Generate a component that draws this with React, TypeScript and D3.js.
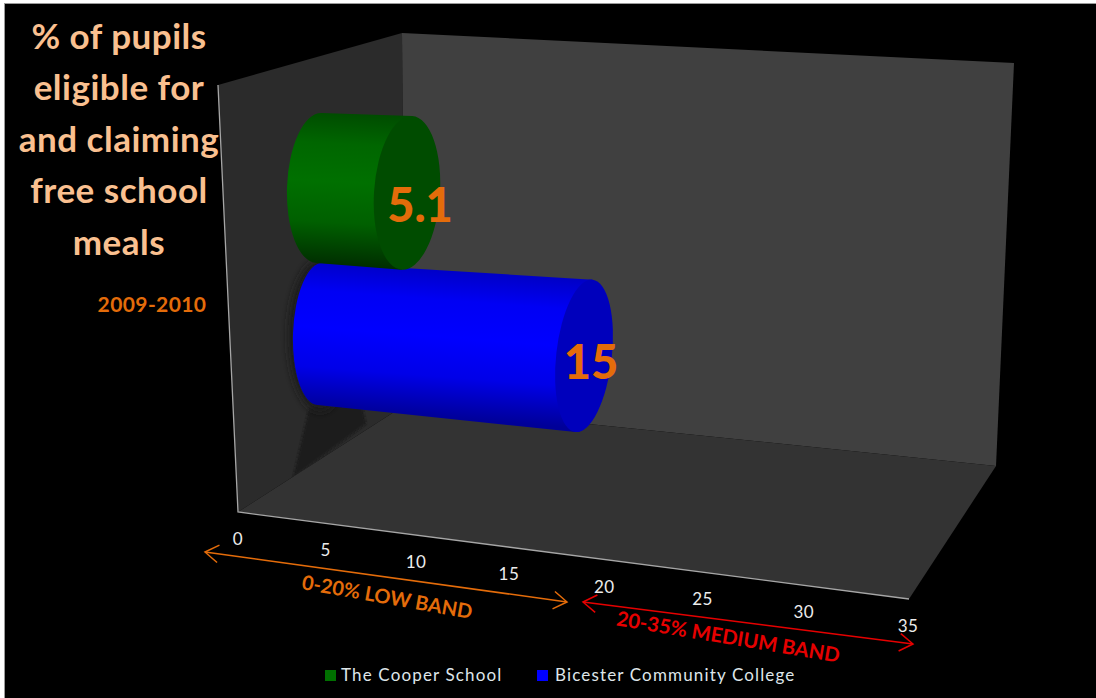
import React from "react";
import * as d3 from "d3";

// Chart values
const schools = ["The Cooper School", "Bicester Community College"];
const meals = [5.1, 15];
const tickValues = [0, 5, 10, 15, 20, 25, 30, 35];
const titleLines = ["% of pupils", "eligible for", "and claiming", "free school", "meals"];
const yearLabel = "2009-2010";
const bands = [
  { label: "0-20% LOW BAND", from: 0, to: 20 },
  { label: "20-35% MEDIUM BAND", from: 20, to: 35 },
];

type Pt = [number, number];

// Perspective along the value axis: equal value steps widen towards the viewer.
const DEPTH_K = 1.105;
const axisMax = d3.max(tickValues) as number;
const unit = d3.scaleLinear().domain([0, axisMax]).range([0, 1]);
const foreshorten = (v: number) => {
  const u = unit(v);
  return u / (u + DEPTH_K * (1 - u));
};
const along = (a: Pt, b: Pt, v: number): Pt => {
  const t = foreshorten(v);
  return [d3.interpolateNumber(a[0], b[0])(t), d3.interpolateNumber(a[1], b[1])(t)];
};

// Box corners of the 3D plot
const wallTopLeft: Pt = [218, 85];
const backTopLeft: Pt = [402, 33];
const backTopRight: Pt = [1014, 63];
const backBottomRight: Pt = [996, 466];
const backBottomLeft: Pt = [405, 405];
const floorFrontLeft: Pt = [238, 512];
const floorFrontRight: Pt = [909, 599];

const poly = (pts: Pt[]) => d3.line()(pts) + "Z";

// Each bar runs along its own ray; radius and tilt change along it.
const rows = [
  {
    start: [319, 188] as Pt, end: [977, 225] as Pt,
    r0: [32, 75], r1: [39, 90], tilt0: 2, tilt1: 16,
    side: ["#004c00", "#006600", "#007000", "#006000", "#002e00"],
    cap: "#004c00",
    labelDx: 13, labelDy: 29,
  },
  {
    start: [320, 334] as Pt, end: [973, 388] as Pt,
    r0: [27, 71], r1: [29, 85], tilt0: 2, tilt1: 13,
    side: ["#0000c8", "#0000f4", "#0000ff", "#0000e8", "#000098"],
    cap: "#0000bc",
    labelDx: 7, labelDy: 23,
  },
];
const sideStops = [0, 0.2, 0.45, 0.72, 1];

function bar(i: number) {
  const row = rows[i];
  const v = meals[i];
  const t = foreshorten(v);
  const c = along(row.start, row.end, v);
  const rx = row.r0[0] + (row.r1[0] - row.r0[0]) * t;
  const ry = row.r0[1] + (row.r1[1] - row.r0[1]) * t;
  const tilt = row.tilt0 + (row.tilt1 - row.tilt0) * t;
  const tip = (p: Pt, r: number, deg: number, sign: number): Pt => {
    const a = (deg * Math.PI) / 180;
    return [p[0] + sign * r * Math.sin(a), p[1] - sign * r * Math.cos(a)];
  };
  const bt = tip(row.start, row.r0[1], row.tilt0, 1);
  const bb = tip(row.start, row.r0[1], row.tilt0, -1);
  const ct = tip(c, ry, tilt, 1);
  const cb = tip(c, ry, tilt, -1);
  const body =
    `M${bb[0]},${bb[1]} A${row.r0[0]},${row.r0[1]} ${row.tilt0} 0 1 ${bt[0]},${bt[1]} ` +
    `L${ct[0]},${ct[1]} L${cb[0]},${cb[1]} Z`;
  return { row, c, rx, ry, tilt, bt, bb, ct, cb, body };
}

const sans = "Lato, 'Open Sans', sans-serif";
const orange = "#E46C0A";

function Arrow({ a, b, color }: { a: Pt; b: Pt; color: string }) {
  const ang = Math.atan2(b[1] - a[1], b[0] - a[0]);
  const head = (p: Pt, dir: number) => {
    const l = 16;
    const s = 0.58;
    const base = ang + (dir > 0 ? Math.PI : 0);
    const p1: Pt = [p[0] + l * Math.cos(base + s), p[1] + l * Math.sin(base + s)];
    const p2: Pt = [p[0] + l * Math.cos(base - s), p[1] + l * Math.sin(base - s)];
    return d3.line()([p1, p, p2]) as string;
  };
  return (
    <g fill="none" stroke={color} strokeWidth={1.5}>
      <path d={d3.line()([a, b]) as string} />
      <path d={head(a, -1)} />
      <path d={head(b, 1)} />
    </g>
  );
}

const arrowEnds: [Pt, Pt][] = [
  [[205, 552], [567, 602]],
  [[583, 602], [913, 644]],
];
const bandColors = [orange, "#E60000"];
const bandText: { at: Pt; angle: number; size: number }[] = [
  { at: [386, 604], angle: 10, size: 20 },
  { at: [727, 644], angle: 9.5, size: 20.3 },
];
const tickAnchorA: Pt = [238, 539];
const tickAnchorB: Pt = [908, 626];
const legendX = [325, 537];
const legendText = [341, 555];

export default function App() {
  const bars = meals.map((_, i) => bar(i));
  return (
    <svg
      width={1096}
      height={698}
      style={{ position: "fixed", left: 0, top: 0, display: "block" }}
      fontFamily={sans}
    >
      <defs>
        <filter id="soft" x="-30%" y="-30%" width="160%" height="160%">
          <feGaussianBlur stdDeviation="3.5" />
        </filter>
        <filter id="softer" x="-30%" y="-30%" width="160%" height="160%">
          <feGaussianBlur stdDeviation="1.2" />
        </filter>
        {bars.map((b, i) => (
          <linearGradient
            key={i}
            id={`side${i}`}
            gradientUnits="userSpaceOnUse"
            x1={(b.bt[0] + b.ct[0]) / 2}
            y1={(b.bt[1] + b.ct[1]) / 2}
            x2={(b.bb[0] + b.cb[0]) / 2}
            y2={(b.bb[1] + b.cb[1]) / 2}
          >
            {b.row.side.map((c, j) => (
              <stop key={j} offset={sideStops[j]} stopColor={c} />
            ))}
          </linearGradient>
        ))}
        <clipPath id="leftWall">
          <path d={poly([wallTopLeft, backTopLeft, backBottomLeft, floorFrontLeft])} />
        </clipPath>
      </defs>

      {/* Page edge and black chart area */}
      <rect width={1096} height={698} fill="#fff" />
      <rect x={4} y={3} width={1092} height={695} fill="#9a9a9a" />
      <rect x={5} y={4} width={1091} height={694} fill="#000" />

      {/* Walls and floor */}
      <path d={poly([wallTopLeft, backTopLeft, backBottomLeft, floorFrontLeft])} fill="#2b2b2b" />
      <path d={poly([backTopLeft, backTopRight, backBottomRight, backBottomLeft])} fill="#404040" />

      {/* Shadows thrown on the left wall */}
      <g clipPath="url(#leftWall)">
        <path
          d={poly([[309, 408], [293, 478], [366, 424], [362, 405]])}
          fill="#1c1c1c"
          filter="url(#softer)"
        />
        <ellipse cx={320} cy={336} rx={32} ry={76} fill="#1b1b1b" filter="url(#soft)" />
      </g>

      <path d={poly([floorFrontLeft, backBottomLeft, backBottomRight, floorFrontRight])} fill="#333" />
      <path
        d={d3.line()([wallTopLeft, floorFrontLeft, floorFrontRight]) as string}
        fill="none"
        stroke="#a6a6a6"
        strokeWidth={1.3}
      />

      {/* Cylinders: the rear one first so the upper one overlaps it */}
      {[1, 0].map((i) => {
        const b = bars[i];
        return (
          <g key={i}>
            <path d={b.body} fill={`url(#side${i})`} />
            <ellipse
              cx={b.c[0]}
              cy={b.c[1]}
              rx={b.rx}
              ry={b.ry}
              transform={`rotate(${b.tilt} ${b.c[0]} ${b.c[1]})`}
              fill={b.row.cap}
            />
          </g>
        );
      })}

      {/* Data labels */}
      {bars.map((b, i) => (
        <text
          key={i}
          x={b.c[0] + b.row.labelDx}
          y={b.c[1] + b.row.labelDy}
          textAnchor="middle"
          fontSize={47}
          fontWeight={900}
          fill={orange}
        >
          {meals[i]}
        </text>
      ))}

      {/* Title block */}
      {titleLines.map((line, i) => (
        <text
          key={line}
          x={119}
          y={49 + i * 51.4}
          textAnchor="middle"
          fontSize={35}
          fontWeight={700}
          letterSpacing={0.5}
          fill="#FAC090"
        >
          {line}
        </text>
      ))}
      <text x={152} y={312} textAnchor="middle" fontSize={21} fontWeight={700} letterSpacing={0.4} fill={orange}>
        {yearLabel}
      </text>

      {/* Value axis labels */}
      {tickValues.map((v) => {
        const p = along(tickAnchorA, tickAnchorB, v);
        return (
          <text key={v} x={p[0]} y={p[1] + 6} textAnchor="middle" fontSize={17} letterSpacing={0.5} fill="#ececec">
            {v}
          </text>
        );
      })}

      {/* Band arrows and captions */}
      {bands.map((band, i) => (
        <g key={band.label}>
          <Arrow a={arrowEnds[i][0]} b={arrowEnds[i][1]} color={bandColors[i]} />
          <text
            transform={`translate(${bandText[i].at[0]} ${bandText[i].at[1]}) rotate(${bandText[i].angle})`}
            textAnchor="middle"
            fontSize={bandText[i].size}
            fontWeight={700}
            fill={bandColors[i]}
          >
            {band.label}
          </text>
        </g>
      ))}

      {/* Legend */}
      {schools.map((name, i) => (
        <g key={name}>
          <rect x={legendX[i]} y={670} width={11} height={11} fill={bars[i].row.side[2]} />
          <text x={legendText[i]} y={681} fontSize={17} letterSpacing={1.15} fill="#dfe6ea">
            {name}
          </text>
        </g>
      ))}
    </svg>
  );
}
